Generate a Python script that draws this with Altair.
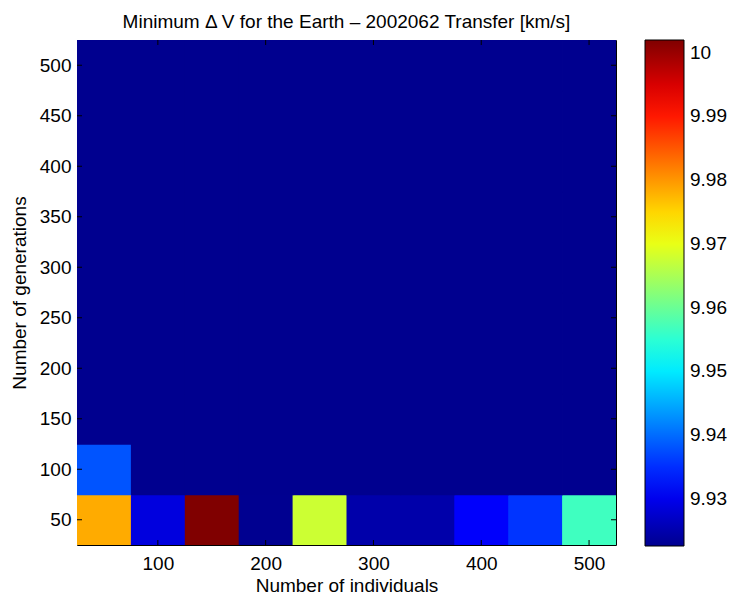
import altair as alt
import pandas as pd

# Grid of GA settings: population size (x) and number of generations (y)
individuals = [50, 100, 150, 200, 250, 300, 350, 400, 450, 500]
generations = [50, 100, 150, 200, 250, 300, 350, 400, 450, 500]

# Minimum delta-V [km/s], one list per generation count (columns follow `individuals`)
dv_gen50 = [9.9784, 9.9288, 10.0020, 9.9227, 9.9677, 9.9247, 9.9247, 9.9312, 9.9355, 9.9566]
dv_gen100 = [9.9381, 9.9226, 9.9226, 9.9226, 9.9226, 9.9226, 9.9226, 9.9226, 9.9226, 9.9226]
dv_gen150 = [9.9226] * 10
dv_gen200 = [9.9226] * 10
dv_gen250 = [9.9226] * 10
dv_gen300 = [9.9226] * 10
dv_gen350 = [9.9226] * 10
dv_gen400 = [9.9226] * 10
dv_gen450 = [9.9226] * 10
dv_gen500 = [9.9226] * 10
dv_rows = [dv_gen50, dv_gen100, dv_gen150, dv_gen200, dv_gen250,
           dv_gen300, dv_gen350, dv_gen400, dv_gen450, dv_gen500]

x_ticks = [100, 200, 300, 400, 500]
y_ticks = [50, 100, 150, 200, 250, 300, 350, 400, 450, 500]
cbar_ticks = [9.93, 9.94, 9.95, 9.96, 9.97, 9.98, 9.99, 10.0]

rows = []
for g, row in zip(generations, dv_rows):
    for n, v in zip(individuals, row):
        rows.append({"ind": n, "gen": g, "dv": v})
df = pd.DataFrame(rows)

# MATLAB "jet" colormap as a piecewise-linear colour scale
vmin, vmax = min(df["dv"]), max(df["dv"])
jet_pos = [0.0, 7 / 63, 23 / 63, 39 / 63, 55 / 63, 1.0]
jet_col = ["#00008f", "#0000ff", "#00ffff", "#ffff00", "#ff0000", "#800000"]
jet_dom = [vmin + p * (vmax - vmin) for p in jet_pos]
jet_scale = alt.Scale(domain=jet_dom, range=jet_col, interpolate="rgb")

W, H = 539, 505
FONT = "Liberation Sans"
FS = 19

xs = alt.Scale(domain=[25, 525], nice=False, zero=False)
ys = alt.Scale(domain=[25, 525], nice=False, zero=False)

# cells overlap their neighbours slightly (clipped at the box) so no seams show
heat = alt.Chart(df).transform_calculate(
    x0="datum.ind - 25", x1="datum.ind + 25.8",
    y0="datum.gen - 25.8", y1="datum.gen + 25",
).mark_rect(clip=True).encode(
    x=alt.X("x0:Q", scale=xs, title="Number of individuals",
            axis=alt.Axis(values=x_ticks, tickSize=0, labelPadding=9, titlePadding=3,
                          domain=False, grid=False)),
    x2="x1:Q",
    y=alt.Y("y0:Q", scale=ys, title="Number of generations",
            axis=alt.Axis(values=y_ticks, tickSize=0, labelPadding=6, titlePadding=10,
                          domain=False, grid=False)),
    y2="y1:Q",
    color=alt.Color("dv:Q", scale=jet_scale,
                    legend=alt.Legend(title=None, values=cbar_ticks, format="~g",
                                      orient="right", direction="vertical", offset=29,
                                      padding=0, gradientLength=506, gradientThickness=39,
                                      gradientStrokeColor="black", gradientStrokeWidth=1,
                                      labelFontSize=FS, labelFont=FONT, labelColor="black",
                                      labelOffset=6)),
)

# Inward-pointing tick marks on all four sides of the box
xt = pd.DataFrame({"t": x_ticks})
yt = pd.DataFrame({"t": y_ticks})
tick_color = "black"
bottom_ticks = alt.Chart(xt).mark_rule(color=tick_color).encode(
    x=alt.X("t:Q", scale=xs), y=alt.value(H), y2=alt.value(H - 5))
top_ticks = alt.Chart(xt).mark_rule(color=tick_color).encode(
    x=alt.X("t:Q", scale=xs), y=alt.value(0), y2=alt.value(5))
left_ticks = alt.Chart(yt).mark_rule(color=tick_color).encode(
    y=alt.Y("t:Q", scale=ys), x=alt.value(0), x2=alt.value(5))
right_ticks = alt.Chart(yt).mark_rule(color=tick_color).encode(
    y=alt.Y("t:Q", scale=ys), x=alt.value(W), x2=alt.value(W - 5))

chart = alt.layer(heat, bottom_ticks, top_ticks, left_ticks, right_ticks).properties(
    width=W, height=H,
    title=alt.Title("Minimum \u0394 V for the Earth \u2013 2002062 Transfer [km/s]",
                    fontSize=FS, font=FONT, fontWeight="normal", color="black",
                    anchor="middle", offset=8),
    autosize=alt.AutoSizeParams(type="none"),
    padding={"left": 77, "top": 40, "right": 115, "bottom": 56},
    background="white",
).configure_view(
    stroke="black", strokeWidth=1
).configure_axis(
    labelFont=FONT, labelFontSize=FS, labelColor="black",
    titleFont=FONT, titleFontSize=FS, titleColor="black", titleFontWeight="normal",
)

chart.save("out.html", embed_options={"renderer": "svg", "actions": False})
